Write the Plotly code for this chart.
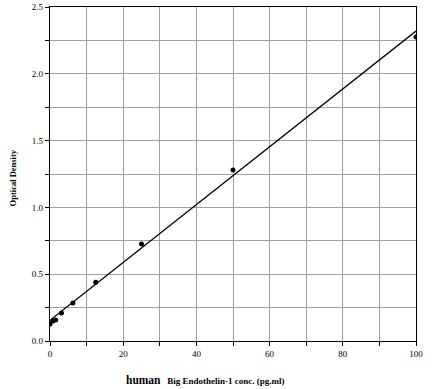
import plotly.graph_objects as go

conc = [0, 0.78, 1.56, 3.125, 6.25, 12.5, 25, 50, 100]
od = [0.127, 0.15, 0.157, 0.21, 0.284, 0.44, 0.726, 1.28, 2.276]
fit_x = [0, 100]
fit_y = [0.155, 2.32]
x_ticks = [0, 20, 40, 60, 80, 100]
y_ticks = [0.0, 0.5, 1.0, 1.5, 2.0, 2.5]

fig = go.Figure()
fig.add_trace(go.Scatter(x=fit_x, y=fit_y, mode="lines",
                         line=dict(color="black", width=1.3), hoverinfo="skip"))
fig.add_trace(go.Scatter(x=conc, y=od, mode="markers",
                         marker=dict(color="black", size=5)))

font = "Liberation Serif"
grid = "#a0a0a0"
axis_common = dict(
    showgrid=True, gridcolor=grid, gridwidth=1.3,
    ticks="outside", ticklen=4, tickcolor="black",
    showline=True, linecolor="black", linewidth=1.3, mirror=True,
    zeroline=False, tickfont=dict(family=font, size=9), automargin=False,
)
fig.update_layout(
    width=440, height=389,
    margin=dict(l=50, r=24, t=7, b=48),
    paper_bgcolor="white", plot_bgcolor="white",
    showlegend=False,
    font=dict(family=font, color="black", size=9),
    xaxis=dict(range=[0, 100], tickvals=x_ticks, ticktext=[str(v) for v in x_ticks],
               minor=dict(dtick=10, showgrid=True, gridcolor=grid, gridwidth=1.3,
                          ticks="outside", ticklen=4, tickcolor="black"),
               **axis_common),
    yaxis=dict(range=[0, 2.5], tickvals=y_ticks, ticktext=["%.1f" % v for v in y_ticks],
               minor=dict(dtick=0.25, showgrid=True, gridcolor=grid, gridwidth=1.3,
                          ticks="outside", ticklen=4, tickcolor="black"),
               **axis_common),
    annotations=[
        dict(text="<b><span style='font-size:11.5px'>human</span>   Big Endothelin-1 conc. (pg.ml)</b>",
             xref="paper", yref="paper", x=0.425, y=-0.117, showarrow=False,
             xanchor="center", yanchor="middle", font=dict(family=font, size=9)),
        dict(text="<b>Optical Density</b>", xref="paper", yref="paper",
             x=-0.101, y=0.487, showarrow=False, textangle=-90,
             xanchor="center", yanchor="middle", font=dict(family=font, size=8.5)),
    ],
)
fig.write_html("out.html", config={"displayModeBar": False},
               post_script="document.body.style.margin='0';document.body.style.overflow='hidden';")
